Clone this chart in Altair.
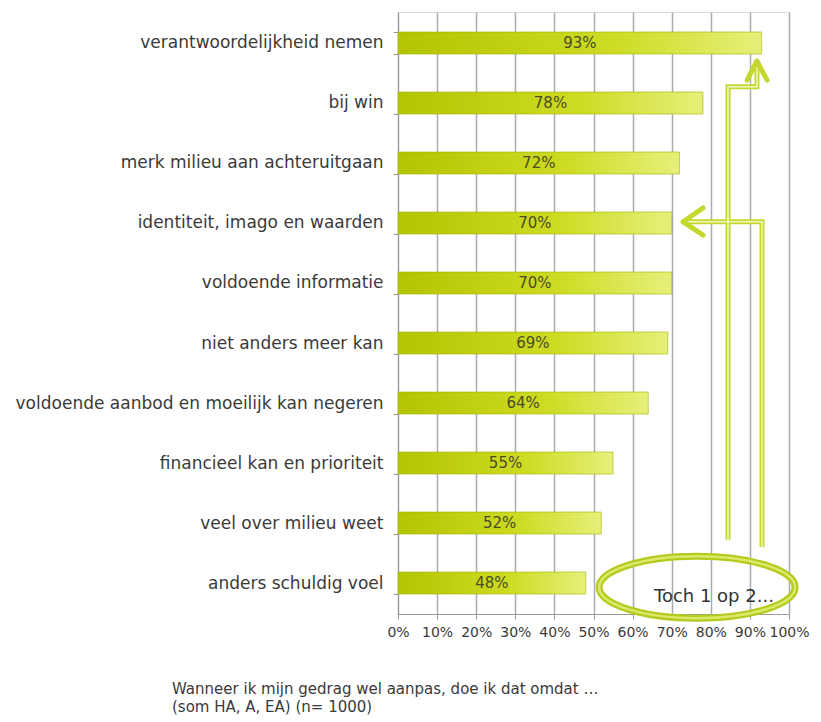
import altair as alt
import pandas as pd

# ---------------- data ----------------
categories = [
    "verantwoordelijkheid nemen",
    "bij win",
    "merk milieu aan achteruitgaan",
    "identiteit, imago en waarden",
    "voldoende informatie",
    "niet anders meer kan",
    "voldoende aanbod en moeilijk kan negeren",
    "financieel kan en prioriteit",
    "veel over milieu weet",
    "anders schuldig voel",
]
values = [93, 78, 72, 70, 70, 69, 64, 55, 52, 48]
x_ticks = [0, 10, 20, 30, 40, 50, 60, 70, 80, 90, 100]
caption_lines = [
    "Wanneer ik mijn gedrag wel aanpas, doe ik dat omdat …",
    "(som HA, A, EA) (n= 1000)",
]
callout_text = ["Toch 1 op 2..."]
callout_x = [80.8]
callout_y = [9.23]
ellipse_x = [76.5]
ellipse_y = [9.07]

# arrow shafts (x in %, y in category index units)
shaft_id = ["a1", "a1", "a1", "a1", "a2", "a2", "a2"]
shaft_x = [84.4, 84.4, 91.8, 91.8, 93.1, 93.1, 72.9]
shaft_y = [8.28, 0.73, 0.73, 0.33, 8.40, 2.98, 2.98]
# arrow heads (chevrons)
head_id = ["h1", "h1", "h1", "h2", "h2", "h2"]
head_x = [89.3, 91.8, 94.4, 78.0, 72.9, 78.0]
head_y = [0.62, 0.30, 0.62, 2.75, 2.98, 3.20]

FONT = "DejaVu Sans"
TXT = "#3a3a3a"
GRID = "#a9abb3"
LIME = "#c4d72c"

bars = pd.DataFrame({"cat": categories, "val": values})
bars["label"] = [f"{v}%" for v in values]

shafts = pd.DataFrame({"id": shaft_id, "x": shaft_x, "y": shaft_y, "o": range(len(shaft_x))})
heads = pd.DataFrame({"id": head_id, "x": head_x, "y": head_y, "o": range(len(head_x))})
ell = pd.DataFrame({"x": ellipse_x, "y": ellipse_y})
callout = pd.DataFrame({"x": callout_x, "y": callout_y, "t": callout_text})

xscale = alt.Scale(domain=[0, 100], nice=False)
yband = alt.Scale(paddingInner=0.633, paddingOuter=0.333)
yq = alt.Scale(domain=[-0.5167, 9.5167], reverse=True, nice=False, zero=False)

x_axis = alt.Axis(
    values=x_ticks,
    labelExpr="datum.value + '%'",
    grid=True,
    gridColor=GRID,
    gridWidth=1.5,
    domainColor="#9a9a9a",
    tickColor="#9a9a9a",
    tickSize=5,
    labelFont=FONT,
    labelFontSize=14,
    labelColor=TXT,
    labelPadding=6,
    labelOverlap=False,
    labelFlush=False,
)
y_axis = alt.Axis(
    tickBand="extent",
    domainColor="#9a9a9a",
    tickColor="#9a9a9a",
    tickSize=5,
    labelFont=FONT,
    labelFontSize=17,
    labelColor=TXT,
    labelPadding=10,
    labelLimit=500,
)

def X(field):
    return alt.X(field, scale=xscale, axis=x_axis, title=None)

gradient = alt.Gradient(
    gradient="linear",
    stops=[
        alt.GradientStop(color="#b3c400", offset=0),
        alt.GradientStop(color="#cddc24", offset=0.6),
        alt.GradientStop(color="#e6f07a", offset=1),
    ],
    x1=0, x2=1, y1=0, y2=0,
)

bar_layer = alt.Chart(bars).mark_bar(
    color=gradient, stroke="#a3b300", strokeWidth=1, strokeOpacity=0.6
).encode(
    x=X("val:Q"),
    y=alt.Y("cat:N", sort=categories, scale=yband, axis=y_axis, title=None),
)

label_layer = alt.Chart(bars).transform_calculate(mid="datum.val / 2").mark_text(
    font=FONT, fontSize=15, color="#4a4a28", align="center", baseline="middle"
).encode(
    x=X("mid:Q"),
    y=alt.Y("cat:N", sort=categories, scale=yband, axis=y_axis, title=None),
    text="label:N",
)

base_chart = alt.layer(bar_layer, label_layer)

shaft_outer = alt.Chart(shafts).mark_line(
    color=LIME, strokeWidth=5, strokeJoin="miter", clip=False
).encode(
    x=X("x:Q"),
    y=alt.Y("y:Q", scale=yq, axis=None),
    detail="id:N",
    order="o:Q",
)
shaft_inner = alt.Chart(shafts).mark_line(
    color="#f1f7c4", strokeWidth=1.5, strokeJoin="miter", clip=False
).encode(
    x=X("x:Q"),
    y=alt.Y("y:Q", scale=yq, axis=None),
    detail="id:N",
    order="o:Q",
)
head_layer = alt.Chart(heads).mark_line(
    color=LIME, strokeWidth=5, strokeCap="round", strokeJoin="round", clip=False
).encode(
    x=X("x:Q"),
    y=alt.Y("y:Q", scale=yq, axis=None),
    detail="id:N",
    order="o:Q",
)

k = 0.5523
r = 0.316
kr = round(k * r, 4)
ellipse_path = (
    f"M -1 0 C -1 {-kr} {-k} {-r} 0 {-r} "
    f"C {k} {-r} 1 {-kr} 1 0 "
    f"C 1 {kr} {k} {r} 0 {r} "
    f"C {-k} {r} -1 {kr} -1 0 Z"
)

ell_outer = alt.Chart(ell).mark_point(
    shape=ellipse_path, size=38416, filled=False, stroke="#b5ca1e", strokeWidth=7,
    opacity=1, clip=False
).encode(
    x=X("x:Q"),
    y=alt.Y("y:Q", scale=yq, axis=None),
)
ell_inner = alt.Chart(ell).mark_point(
    shape=ellipse_path, size=38416, filled=False, stroke="#dbe96a", strokeWidth=2.5,
    opacity=1, clip=False
).encode(
    x=X("x:Q"),
    y=alt.Y("y:Q", scale=yq, axis=None),
)
callout_layer = alt.Chart(callout).mark_text(
    font=FONT, fontSize=18, color="#333333", align="center", baseline="middle"
).encode(
    x=X("x:Q"),
    y=alt.Y("y:Q", scale=yq, axis=None),
    text="t:N",
)

overlay = alt.layer(shaft_outer, shaft_inner, head_layer, ell_outer, ell_inner, callout_layer)

chart = alt.layer(base_chart, overlay).resolve_scale(y="independent").properties(
    width=391,
    height=602,
    autosize=alt.AutoSizeParams(type="none"),
    padding={"left": 398, "top": 12, "right": 32, "bottom": 108},
    title=alt.TitleParams(
        text=caption_lines,
        orient="bottom",
        anchor="start",
        frame="group",
        dx=-226,
        offset=43,
        font=FONT,
        fontSize=15,
        fontWeight="normal",
        color=TXT,
        lineHeight=18,
    ),
).configure_view(strokeWidth=0).configure(background="white")

chart.save("out.html", embed_options={"renderer": "svg", "actions": False})
